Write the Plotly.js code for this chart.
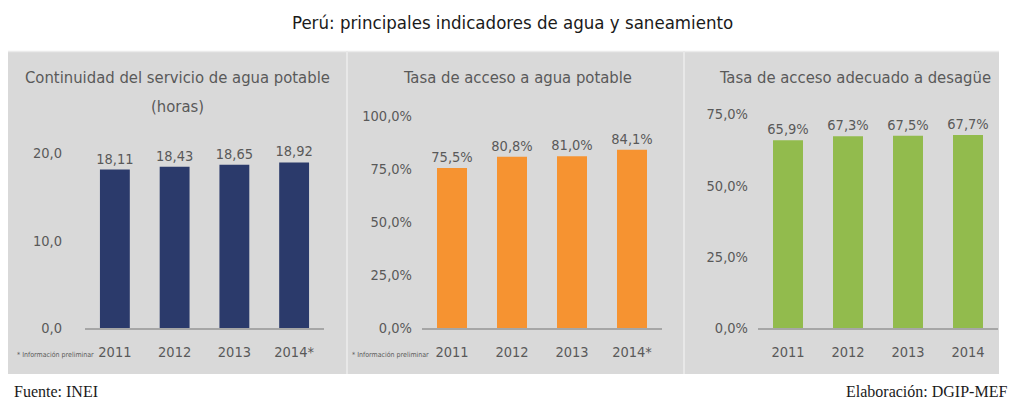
<!DOCTYPE html>
<html>
<head>
<meta charset="utf-8">
<script src="https://cdn.plot.ly/plotly-3.0.1.min.js"></script>
<style>html,body{margin:0;padding:0;background:#fff;} #chart{width:1009px;height:400px;}</style>
</head>
<body>
<div id="chart"></div>
<script>
// ---- data ----
const years = ['2011', '2012', '2013', '2014*'];
const years3 = ['2011', '2012', '2013', '2014'];
const horasAgua = [18.11, 18.43, 18.65, 18.92];
const accesoAgua = [75.5, 80.8, 81.0, 84.1];
const accesoDesague = [65.9, 67.3, 67.5, 67.7];
const ticks1 = [0, 10, 20];
const ticks2 = [0, 25, 50, 75, 100];
const ticks3 = [0, 25, 50, 75];

const W = 1009, H = 400;
const px = v => v / W, py = v => 1 - v / H;
const gray = '#595959';
const fontFam = '"DejaVu Sans Condensed", "DejaVu Sans", sans-serif';
const fmt1 = (v, suf) => v.toFixed(1).replace('.', ',') + suf;

function barTrace(x, y, color, xa, ya, tmpl) {
  return {
    type: 'bar', x: x, y: y, xaxis: xa, yaxis: ya,
    marker: {color: color},
    texttemplate: tmpl, textposition: 'outside', cliponaxis: false, constraintext: 'none',
    textfont: {family: fontFam, size: 14.5, color: gray},
    hoverinfo: 'skip', showlegend: false
  };
}

const data = [
  barTrace(years, horasAgua, '#2b3a6b', 'x', 'y', '%{y:.2f}'),
  barTrace(years, accesoAgua, '#f69331', 'x2', 'y2', '%{y:.1f}%'),
  barTrace(years3, accesoDesague, '#92bb4d', 'x3', 'y3', '%{y:.1f}%')
];

const yDom = [py(328), py(110)];
function xAxis(dom, anchor) {
  return {type: 'category', domain: dom, anchor: anchor, showline: true, linecolor: '#a6a6a6', linewidth: 1.5,
    showgrid: false, zeroline: false, ticks: '', fixedrange: true, ticklabelstandoff: 10,
    tickfont: {family: fontFam, size: 14.5, color: gray}};
}
function yAxis(anchor, range, tv, suffix, standoff) {
  return {anchor: anchor, domain: yDom, range: range, tickmode: 'array', tickvals: tv,
    ticktext: tv.map(v => fmt1(v, suffix)),
    showgrid: false, zeroline: false, showline: false, ticks: '',
    tickfont: {family: fontFam, size: 14.5, color: gray}, fixedrange: true, ticklabelstandoff: standoff};
}

const ann = (text, x, y, opts) => Object.assign({text: text, x: x, y: y, xref: 'paper', yref: 'paper',
  xanchor: 'center', yanchor: 'middle',
  showarrow: false, font: {family: fontFam, size: 16, color: gray}}, opts || {});

const titleFont = {family: fontFam, size: 16.5, color: gray};
const smallFont = {family: '"Liberation Sans Narrow", "DejaVu Sans Condensed", sans-serif', size: 7, color: gray};
const srcFont = {family: '"Liberation Serif", serif', size: 16, color: '#1a1a1a'};

const layout = {
  width: W, height: H,
  margin: {l: 0, r: 0, t: 0, b: 0},
  paper_bgcolor: '#ffffff', plot_bgcolor: 'rgba(0,0,0,0)',
  separators: ',.',
  bargap: 0.5,
  xaxis: xAxis([px(85), px(324)], 'y'),
  xaxis2: xAxis([px(422), px(662)], 'y2'),
  xaxis3: xAxis([px(758), px(998)], 'y3'),
  yaxis: yAxis('x', [0, (328 - 110) / 8.75], ticks1, '', 22),
  yaxis2: yAxis('x2', [0, (328 - 110) / 2.12], ticks2, '%', 9),
  yaxis3: yAxis('x3', [0, (328 - 110) / 2.85], ticks3, '%', 9),
  shapes: [
    {type: 'rect', xref: 'paper', yref: 'paper', x0: px(8), x1: px(999), y0: py(374), y1: py(51),
      fillcolor: '#d9d9d9', line: {width: 0}, layer: 'below'},
    {type: 'line', xref: 'paper', yref: 'paper', x0: px(8), x1: px(999), y0: py(51.5), y1: py(51.5),
      line: {color: '#ebebeb', width: 1.5}, layer: 'below'},
    {type: 'line', xref: 'paper', yref: 'paper', x0: px(347), x1: px(347), y0: py(374), y1: py(51),
      line: {color: '#e8e8e8', width: 2}, layer: 'below'},
    {type: 'line', xref: 'paper', yref: 'paper', x0: px(684), x1: px(684), y0: py(374), y1: py(51),
      line: {color: '#e8e8e8', width: 2}, layer: 'below'}
  ],
  annotations: [
    ann('Perú: principales indicadores de agua y saneamiento', px(512), py(22),
      {font: {family: fontFam, size: 18.5, color: '#1a1a1a'}}),
    ann('Continuidad del servicio de agua potable', px(177), py(77), {font: titleFont}),
    ann('(horas)', px(177), py(106), {font: titleFont}),
    ann('Tasa de acceso a agua potable', px(517), py(77), {font: titleFont}),
    ann('Tasa de acceso adecuado a desagüe', px(855), py(77), {font: titleFont}),
    ann('* Información preliminar', px(15), py(355), {xanchor: 'left', font: smallFont}),
    ann('* Información preliminar', px(350), py(355), {xanchor: 'left', font: smallFont}),
    ann('Fuente: INEI', px(12), py(391), {xanchor: 'left', font: srcFont}),
    ann('Elaboración: DGIP-MEF', px(1009), py(391), {xanchor: 'right', font: srcFont})
  ]
};

Plotly.newPlot('chart', data, layout, {staticPlot: true, displayModeBar: false});
</script>
</body>
</html>
